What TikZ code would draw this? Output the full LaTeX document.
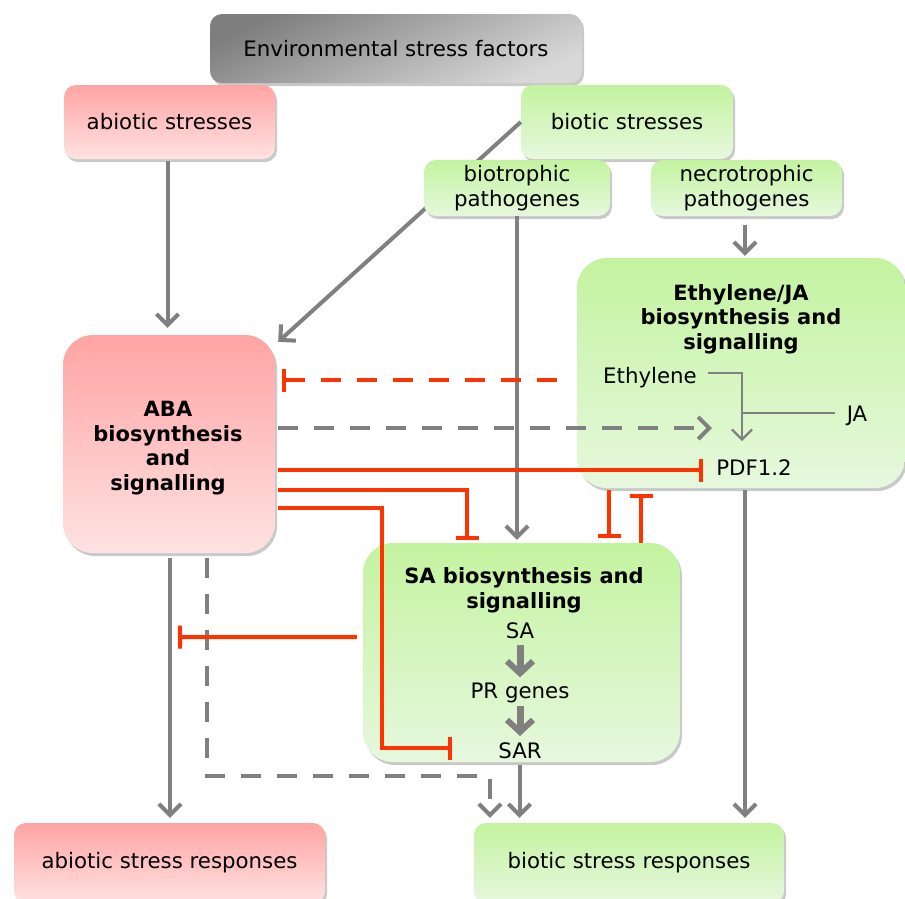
\documentclass[tikz,border=0pt]{standalone}
\usepackage{fontspec}
\setmainfont{DejaVu Sans}
\usetikzlibrary{arrows.meta,shadows,calc}
\definecolor{garr}{HTML}{808080}
\definecolor{redl}{HTML}{FF3300}
\definecolor{pinkT}{HTML}{FFA4A4}
\definecolor{pinkB}{HTML}{FFE2E2}
\definecolor{greenT}{HTML}{C3F39F}
\definecolor{greenB}{HTML}{E7F8DE}
\definecolor{envT}{HTML}{7E7E7E}
\definecolor{envB}{HTML}{D8D8D8}
\tikzset{
  fnt/.style={font=\fontsize{21.3}{25}\selectfont},
  box/.style={fnt, rounded corners=12pt, inner sep=0pt, align=center,
    drop shadow={shadow xshift=2pt, shadow yshift=-3pt, opacity=0.35, fill=black!60}},
  pinkbox/.style={box, top color=pinkT, bottom color=pinkB},
  greenbox/.style={box, top color=greenT, bottom color=greenB},
  bigbox/.style={rounded corners=30pt},
  lbl/.style={fnt, inner sep=0pt, align=center},
  ttl/.style={lbl, font=\fontsize{21}{24.7}\selectfont\bfseries},
  garrow/.style={draw=garr, line width=4pt, -{Straight Barb[length=11pt,width=22pt]}},
  gdash/.style={garrow, dash pattern=on 20pt off 16pt},
  tarrow/.style={draw=garr, line width=2.2pt, -{Straight Barb[length=10pt,width=20pt]}},
  tline/.style={draw=garr, line width=2.2pt},
  farrow/.style={draw=garr, line width=7pt, -{Straight Barb[length=12pt,width=26pt,line width=6pt]}},
  rinh/.style={draw=redl, line width=4pt, -{Bar[width=23pt]}},
  rinhs/.style={draw=redl, line width=4pt, {Bar[width=23pt]}-},
  rdash/.style={rinhs, dash pattern=on 20pt off 16pt},
}
\begin{document}
\begin{tikzpicture}[x=1pt,y=-1pt]
\useasboundingbox (0,0) rectangle (905,898);
\fill[white] (0,0) rectangle (905,898);

% top boxes
\node[box, top color=envT, bottom color=envB, shading angle=25,
      minimum width=372pt, minimum height=69pt] (env) at (396,48.5) {Environmental stress factors};
\node[pinkbox, minimum width=211pt, minimum height=74pt] (abio) at (169.5,122) {abiotic stresses};
\node[greenbox, minimum width=212pt, minimum height=74pt] (bio) at (627,122) {biotic stresses};

% big boxes
\node[greenbox, bigbox, minimum width=328pt, minimum height=230pt] (eth) at (741,373) {};
\node[pinkbox, bigbox, minimum width=212pt, minimum height=218pt] (aba) at (169,444) {};
\node[greenbox, bigbox, minimum width=317pt, minimum height=219pt] (sa) at (521.5,652.5) {};

% biotic -> ABA (behind biotrophic box)
\draw[garrow] (bio.west) -- ($(aba.north east)+(3,7)$);

\node[greenbox, minimum width=186pt, minimum height=56pt] (btro) at (517,188) {biotrophic\\pathogenes};
\node[greenbox, minimum width=191pt, minimum height=56pt] (ntro) at (746.5,188) {necrotrophic\\pathogenes};

% bottom boxes
\node[pinkbox, minimum width=311pt, minimum height=80pt] (abresp) at (169.5,863) {abiotic stress responses};
\node[greenbox, minimum width=310pt, minimum height=80pt] (bresp) at (629,863) {biotic stress responses};

% titles and labels
\node[ttl] (abaT) at (168,448) {ABA\\biosynthesis\\and\\signalling};
\node[ttl] (ethT) at (741,319) {Ethylene/JA\\biosynthesis and\\signalling};
\node[ttl] (saT) at (524,590) {SA biosynthesis and\\signalling};
\node[lbl, anchor=base] (ethy) at (650,383) {Ethylene};
\node[lbl, anchor=base] (ja) at (857,421) {JA};
\node[lbl, anchor=base] (pdf) at (754,475) {PDF1.2};
\node[lbl, anchor=base] (saL) at (520,638) {SA};
\node[lbl, anchor=base] (pr) at (520,698) {PR genes};
\node[lbl, anchor=base] (sar) at (520,758) {SAR};

% gray arrows
\draw[garrow, shorten <=2pt, shorten >=7pt] ($(abio.south)+(-2,0)$) -- ($(abio.south |- aba.north)+(-2,0)$);
\draw[garrow, shorten >=3pt] (btro.south) -- (btro.south |- sa.north);
\draw[garrow, shorten <=9pt, shorten >=2pt] ($(ntro.south)+(-1.5,0)$) -- ($(ntro.south |- eth.north)+(-1.5,0)$);
\draw[garrow, shorten <=2pt, shorten >=5pt] ($(eth.south)+(4,0)$) -- ($(eth.south |- bresp.north)+(4,0)$);
\draw[garrow, shorten <=3pt, shorten >=5pt] ($(sa.south)+(-2,0)$) -- ($(sa.south |- bresp.north)+(-2,0)$);
\draw[garrow, shorten <=5pt, shorten >=5pt] ($(aba.south)+(1,0)$) -- ($(aba.south |- abresp.north)+(1,0)$);

% inside Ethylene/JA box
\coordinate (e1) at (708,373);
\coordinate (e2) at (742,441);
\coordinate (jn) at (742,413);
\coordinate (j1) at (835,413);
\draw[tarrow] (e1) -| (e2);
\draw[tline] (j1) -- (jn);

% inside SA box
\draw[farrow, shorten <=6pt, shorten >=5pt] (saL.south) -- (pr.north);
\draw[farrow, shorten <=3pt, shorten >=6pt] (pr.south) -- (sar.north);

% gray dashed
\coordinate (gEnd) at (712,428);
\draw[gdash] ($(aba.east)+(3,-16)$) -- (gEnd);
\coordinate (dA) at ($(bresp.north)+(-139,-5)$);
\draw[gdash] ($(aba.south)+(38,5)$) -- ++(0,218) -| (dA);

% red inhibitions
\draw[rdash] ($(aba.east)+(7,-64)$) -- ($(eth.west)+(-9,7)$);
\draw[rinh] ($(aba.east)+(3,26)$) -- ($(pdf.base west)+(-13,-5)$);
\draw[rinh] ($(aba.east)+(3,46)$) -| ($(sa.north)+(-54.5,-3)$);
\draw[rinh] ($(aba.east)+(3,64)$) -| ($(sa.west)+(19,95.5)$) -- ($(sa.west)+(89,95.5)$);
\draw[rinh] ($(sa.west)+(-6,-15.5)$) -- ($(aba.south)+(9,84)$);
\draw[rinh] ($(eth.south)+(-132,2)$) -- ($(sa.north)+(87.5,-5)$);
\draw[rinh] ($(sa.north)+(119.5,0)$) -- ($(eth.south)+(-100,6)$);
\end{tikzpicture}
\end{document}
